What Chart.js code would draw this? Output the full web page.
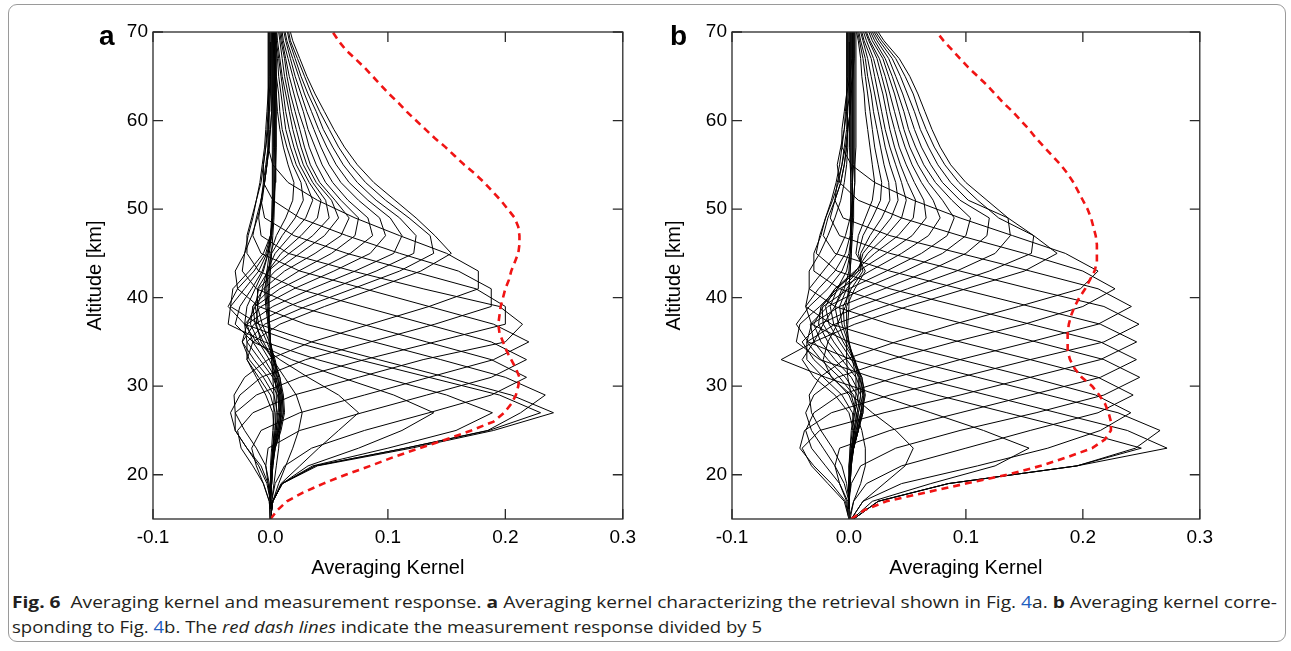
<!DOCTYPE html>
<html lang="en">
<head>
<meta charset="UTF-8">
<title>Averaging kernel and measurement response</title>
<style>
    body {
        margin: 0;
        width: 1291px;
        height: 651px;
        background: #fff;
        position: relative;
        overflow: hidden;
        font-family: "Liberation Sans", Arial, sans-serif;
    }
    #box {
        position: absolute;
        left: 8px;
        top: 4px;
        width: 1276px;
        height: 636px;
        border: 1px solid #9a9a9a;
        border-radius: 9px;
    }
    canvas {
        position: absolute;
        top: 0;
    }
    .tag {
        position: absolute;
        font-weight: bold;
        font-size: 28px;
        line-height: 1;
        color: #000;
    }
    .cap-line {
        position: absolute;
        left: 12px;
        white-space: nowrap;
        font-family: "Open Sans", "Noto Sans", sans-serif;
        font-size: 16px;
        color: #231f20;
        transform-origin: 0 50%;
        display: inline-block;
    }
    .cap-line b { font-weight: 700; }
    .cap-line .ref { color: #1f5fbf; }
</style>
</head>
<body>
<div id="box"></div>
<canvas id="panelA" width="643" height="580"></canvas>
<canvas id="panelB" width="641" height="580"></canvas>
<div class="tag" style="left:99px; top:22px;">a</div>
<div class="tag" style="left:670px; top:22px;">b</div>
<div class="cap-line" id="cap1" data-width="1265" style="top:591px;"><b>Fig. 6</b>&nbsp;&nbsp;Averaging kernel and measurement response. <b>a</b> Averaging kernel characterizing the retrieval shown in Fig. <span class="ref">4</span>a. <b>b</b> Averaging kernel corre-</div>
<div class="cap-line" id="cap2" data-width="750" style="top:616px;">sponding to Fig. <span class="ref">4</span>b. The <i>red dash lines</i> indicate the measurement response divided by 5</div>

<script src="https://cdn.jsdelivr.net/npm/chart.js"></script>
<script>
    // retrieval grid (km) shared by every kernel row
    const altitudes = [15, 17, 19, 21, 23, 25, 27, 29, 31, 33, 35, 37, 39, 41, 43,
                       45, 47, 49, 51, 53, 55, 57, 59, 61, 63, 65, 67, 69, 71];

    // panel a: one row per retrieval level (15 ... 71 km)
    const kernelsA = [
        [0,.001,.003,.005,.007,.008,.009,.007,.003,.001,-.001,-.002,-.002,-.001,0,.001,.002,.003,.0035,.004,.004,.0045,.0045,.0045,.0045,.0045,.0045,.0045,.0045],
        [0,.002,.007,.013,.019,.024,.027,.022,.012,.002,-.008,-.012,-.011,-.007,-.003,-.001,.001,.002,.0025,.003,.003,.0035,.0035,.0035,.0035,.0035,.0035,.0035,.0035],
        [0,.002,.009,.025,.041,.058,.075,.058,.032,.008,-.012,-.022,-.020,-.013,-.006,-.002,.001,.002,.003,.004,.0045,.005,.005,.005,.005,.005,.005,.005,.005],
        [0,.002,.010,.032,.075,.112,.139,.105,.060,.018,-.015,-.030,-.026,-.016,-.007,-.002,0,.001,.0015,.002,.002,.0025,.0025,.0025,.0025,.0025,.0025,.0025,.0025],
        [0,.002,.010,.036,.100,.158,.189,.150,.095,.040,-.005,-.036,-.034,-.022,-.010,-.003,.001,.002,.003,.0035,.004,.004,.004,.004,.004,.004,.004,.004,.004],
        [0,.002,.010,.038,.115,.186,.230,.195,.135,.075,.020,-.022,-.036,-.028,-.014,-.004,0,.002,.002,.002,.0015,.0015,.0015,.0015,.0015,.0015,.0015,.0015,.0015],
        [0,.002,.010,.040,.120,.190,.241,.205,.150,.092,.035,-.010,-.034,-.032,-.018,-.006,0,.002,.003,.003,.003,.003,.003,.003,.003,.003,.003,.003,.003],
        [0,.002,.010,.038,.115,.185,.213,.234,.200,.145,.088,.030,-.010,-.028,-.030,-.022,-.016,-.011,-.007,-.005,-.003,-.002,-.002,-.002,-.002,-.002,-.002,-.002,-.002],
        [0,.001,.004,.012,.035,.080,.135,.188,.218,.188,.133,.078,.023,-.012,-.024,-.022,-.019,-.015,-.012,-.009,-.007,-.005,-.004,-.003,-.002,-.001,-.001,-.001,-.001],
        [0,0,-.002,-.004,-.002,.025,.078,.133,.188,.218,.188,.133,.078,.023,-.010,-.020,-.020,-.016,-.012,-.008,-.006,-.004,-.003,-.002,-.001,0,.0005,.0005,.0005],
        [0,-.001,-.006,-.012,-.016,-.008,.025,.080,.135,.190,.220,.190,.135,.080,.025,-.008,-.015,-.012,-.008,-.005,-.003,-.001,0,.001,.002,.002,.002,.002,.002],
        [0,-.001,-.006,-.015,-.025,-.028,-.015,.020,.075,.130,.200,.2146,.195,.130,.070,.015,-.008,-.010,-.008,-.005,-.003,-.001,-.001,-.0015,-.0015,-.0015,-.0015,-.0015,-.0015],
        [0,0,-.003,-.010,-.020,-.030,-.030,-.012,.025,.080,.140,.200,.200,.175,.120,.065,.020,-.005,-.008,-.006,-.004,-.002,0,.001,.001,.001,.001,.001,.001],
        [0,0,-.002,-.008,-.020,-.030,-.034,-.026,-.008,.030,.085,.140,.188,.188,.160,.110,.065,.025,.002,-.006,-.006,-.004,-.002,-.001,-.0005,-.0005,-.0005,-.0005,-.0005],
        [0,0,-.001,-.004,-.012,-.022,-.030,-.031,-.022,-.002,.035,.085,.135,.177,.177,.150,.110,.072,.040,.015,.002,-.002,-.002,-.001,0,0,0,0,0],
        [0,0,0,.001,.002,.003,.002,-.004,-.012,-.020,-.015,.008,.046,.088,.128,.154,.140,.124,.106,.088,.074,.063,.054,.046,.038,.031,.025,.019,.015],
        [0,0,0,.001,.002,.004,.004,0,-.010,-.020,-.020,-.005,.030,.070,.110,.139,.136,.118,.098,.081,.068,.058,.050,.042,.035,.029,.023,.017,.014],
        [0,0,.001,.001,.003,.005,.006,.003,-.006,-.018,-.024,-.014,.015,.052,.090,.122,.124,.110,.090,.074,.062,.053,.045,.039,.032,.026,.021,.016,.013],
        [0,0,0,.001,.003,.006,.008,.006,-.002,-.014,-.024,-.020,.002,.035,.072,.105,.112,.102,.083,.067,.056,.048,.041,.035,.029,.024,.019,.014,.011],
        [0,0,.001,.002,.003,.007,.009,.008,.002,-.009,-.020,-.022,-.008,.020,.054,.085,.098,.093,.075,.060,.050,.043,.037,.031,.026,.021,.017,.013,.010],
        [0,0,0,.001,.003,.007,.010,.009,.004,-.005,-.015,-.020,-.013,.008,.038,.068,.087,.083,.066,.053,.044,.038,.032,.028,.023,.019,.015,.011,.009],
        [0,0,.001,.002,.004,.008,.011,.010,.006,-.001,-.010,-.017,-.015,0,.024,.052,.072,.075,.060,.047,.039,.033,.029,.024,.020,.016,.013,.010,.008],
        [0,0,0,.001,.004,.009,.012,.011,.008,.002,-.006,-.013,-.015,-.006,.012,.038,.060,.067,.055,.042,.034,.029,.025,.021,.017,.014,.012,.009,.007],
        [0,0,.001,.002,.004,.008,.011,.010,.008,.003,-.003,-.010,-.013,-.010,.004,.025,.046,.058,.052,.039,.031,.026,.022,.018,.015,.012,.010,.008,.006],
        [0,0,0,.001,.003,.007,.009,.009,.007,.004,-.001,-.007,-.011,-.011,-.002,.016,.036,.050,.047,.036,.028,.023,.019,.016,.013,.010,.008,.006,.005],
        [0,0,.001,.001,.003,.006,.008,.008,.006,.003,0,-.002,-.004,-.005,-.002,.009,.026,.040,.043,.033,.025,.020,.016,.013,.011,.009,.007,.005,.004],
        [0,0,0,.001,.002,.005,.007,.007,.005,.003,0,-.001,-.003,-.004,-.003,.004,.017,.030,.036,.030,.022,.017,.013,.011,.009,.007,.006,.004,.003],
        [0,0,.001,.001,.002,.004,.005,.005,.004,.002,0,-.001,-.002,-.003,-.002,.001,.010,.021,.028,.026,.019,.014,.010,.008,.007,.005,.004,.003,.002],
        [0,0,0,0,.001,.002,.003,.003,.002,.001,0,-.0005,-.001,-.0015,-.001,0,.005,.013,.019,.020,.015,.011,.008,.006,.005,.004,.003,.002,.001]
    ];

    // panel b: same grid, second retrieval
    const kernelsB = [
        [.001,.004,.010,.014,.014,.011,.006,.002,-.001,-.002,-.002,-.001,0,0,.001,.002,.002,.003,.003,.003,.003,.003,.003,.003,.003,.003,.003,.003,.003],
        [.002,.012,.030,.048,.055,.040,.020,.002,-.015,-.022,-.018,-.010,-.003,0,.001,.002,.003,.004,.004,.005,.005,.005,.005,.005,.005,.005,.005,.005,.005],
        [.003,.020,.070,.125,.154,.115,.070,.025,-.020,-.058,-.030,-.022,-.012,-.004,0,.001,.001,.0015,.0015,.0015,.0015,.0015,.0015,.0015,.0015,.0015,.0015,.0015,.0015],
        [.004,.025,.085,.195,.250,.195,.135,.075,.020,-.025,-.045,-.042,-.025,-.010,-.002,.001,.002,.003,.004,.005,.005,.006,.006,.006,.006,.006,.006,.006,.006],
        [.004,.025,.085,.195,.272,.238,.178,.118,.058,.002,-.035,-.045,-.034,-.018,-.006,0,.002,.002,.002,.002,.001,.0005,.0005,.0005,.0005,.0005,.0005,.0005,.0005],
        [.004,.025,.085,.195,.245,.266,.230,.170,.110,.050,0,-.032,-.037,-.026,-.012,-.003,.001,.002,.003,.003,.004,.004,.004,.004,.004,.004,.004,.004,.004],
        [.002,.012,.045,.110,.170,.215,.241,.211,.155,.095,.035,-.015,-.037,-.034,-.022,-.010,-.003,.001,.003,.003,.002,.002,.002,.002,.002,.002,.002,.002,.002],
        [0,.004,.015,.045,.100,.155,.213,.243,.213,.155,.095,.035,-.012,-.034,-.034,-.025,-.018,-.012,-.007,-.004,-.002,-.001,-.001,-.002,-.002,-.002,-.002,-.002,-.002],
        [0,0,.002,.010,.040,.095,.160,.218,.2486,.218,.160,.100,.040,-.008,-.030,-.030,-.024,-.020,-.015,-.011,-.008,-.006,-.004,-.003,-.002,-.001,-.001,-.001,-.001],
        [0,-.002,-.008,-.012,-.008,.035,.095,.155,.215,.2458,.215,.155,.095,.035,-.010,-.028,-.025,-.020,-.014,-.009,-.006,-.004,-.002,-.001,-.0005,-.0005,-.0005,-.0005,-.0005],
        [0,-.004,-.018,-.032,-.040,-.025,.030,.095,.155,.215,.246,.215,.155,.095,.035,-.012,-.022,-.018,-.012,-.007,-.004,-.002,-.001,.001,.002,.0035,.0035,.0035,.0035],
        [0,-.003,-.015,-.030,-.042,-.038,-.015,.035,.095,.155,.218,.248,.218,.155,.095,.035,-.008,-.016,-.012,-.007,-.004,-.002,-.001,-.0015,-.0015,-.0015,-.0015,-.0015,-.0015],
        [0,-.001,-.008,-.020,-.032,-.037,-.030,-.008,.040,.095,.155,.213,.2415,.213,.155,.095,.035,-.005,-.012,-.010,-.006,-.003,-.001,.001,.001,.001,.001,.001,.001],
        [0,0,-.004,-.012,-.022,-.032,-.037,-.030,-.010,.035,.090,.150,.200,.2275,.200,.150,.095,.045,.008,-.008,-.010,-.007,-.004,-.002,.001,.003,.0045,.0045,.0045],
        [0,0,-.002,-.006,-.014,-.024,-.032,-.034,-.025,-.004,.040,.090,.145,.198,.213,.185,.140,.095,.055,.022,.002,-.006,-.006,-.004,-.002,.001,.0025,.0025,.0025],
        [0,0,0,.001,.003,.004,0,-.012,-.030,-.040,-.030,.005,.050,.100,.150,.178,.158,.136,.118,.100,.087,.078,.071,.065,.059,.052,.043,.030,.020],
        [0,0,0,.001,.003,.005,.003,-.006,-.022,-.036,-.036,-.012,.030,.075,.120,.156,.158,.128,.110,.094,.082,.073,.066,.060,.055,.048,.040,.028,.018],
        [0,0,.001,.001,.004,.006,.006,0,-.014,-.030,-.040,-.025,.008,.050,.092,.125,.138,.136,.102,.087,.076,.068,.061,.056,.050,.044,.037,.026,.017],
        [0,0,0,.001,.004,.007,.008,.004,-.008,-.024,-.036,-.032,-.008,.030,.068,.100,.118,.120,.095,.080,.070,.062,.056,.051,.046,.040,.034,.024,.016],
        [0,0,.001,.002,.004,.008,.010,.007,-.003,-.018,-.030,-.033,-.018,.012,.048,.080,.100,.104,.088,.074,.064,.057,.051,.047,.042,.037,.031,.022,.015],
        [0,0,0,.001,.004,.008,.011,.010,.002,-.012,-.024,-.030,-.022,0,.032,.062,.084,.090,.080,.068,.059,.052,.047,.043,.039,.034,.029,.020,.014],
        [0,0,.001,.002,.004,.008,.012,.012,.006,-.006,-.018,-.026,-.024,-.008,.018,.045,.068,.078,.072,.062,.054,.048,.043,.039,.035,.031,.026,.018,.012],
        [0,0,0,.001,.004,.008,.012,.013,.009,-.002,-.013,-.022,-.023,-.012,.008,.032,.054,.066,.064,.056,.049,.043,.039,.035,.032,.028,.024,.017,.011],
        [0,0,.001,.002,.003,.007,.011,.014,.011,.002,-.008,-.017,-.020,-.012,.005,.022,.042,.055,.057,.050,.044,.039,.035,.032,.029,.025,.021,.015,.010],
        [0,0,0,.001,.003,.006,.010,.013,.011,.004,-.005,-.013,-.016,-.010,.006,.016,.032,.045,.049,.045,.040,.035,.031,.028,.025,.022,.019,.013,.009],
        [0,0,.001,.001,.002,.005,.008,.012,.010,.005,-.003,-.009,-.012,-.006,.008,.012,.024,.036,.042,.040,.035,.031,.028,.025,.022,.019,.016,.012,.008],
        [0,0,0,0,.002,.004,.007,.010,.009,.005,-.001,-.006,-.008,-.002,.010,.010,.018,.028,.035,.034,.030,.027,.024,.021,.019,.016,.014,.010,.007],
        [0,0,.001,.001,.001,.003,.005,.008,.008,.004,0,-.004,-.005,.002,.012,.008,.012,.020,.027,.028,.025,.022,.020,.018,.016,.014,.012,.009,.006],
        [0,0,0,0,.001,.002,.004,.006,.006,.003,0,-.002,-.002,.005,.014,.006,.008,.014,.020,.022,.020,.018,.016,.014,.013,.011,.010,.008,.005]
    ];

    // measurement response / 5, on a 1 km grid
    const responseAltitudes = [15, 16, 17, 18, 19, 20, 21, 22, 23, 24, 25, 26, 27, 28, 29, 30, 31, 32, 33, 34,
                               35, 36, 37, 38, 39, 40, 41, 42, 43, 44, 45, 46, 47, 48, 49, 50, 51, 52, 53, 54,
                               55, 56, 57, 58, 59, 60, 61, 62, 63, 64, 65, 66, 67, 68, 69, 70];
    const responseA = [0.000, 0.006, 0.014, 0.028, 0.045, 0.064, 0.085, 0.105, 0.127, 0.150,
                       0.171, 0.190, 0.199, 0.205, 0.209, 0.211, 0.212, 0.209, 0.205, 0.201,
                       0.198, 0.195, 0.194, 0.195, 0.196, 0.198, 0.200, 0.203, 0.205, 0.208,
                       0.211, 0.212, 0.212, 0.211, 0.208, 0.202, 0.196, 0.189, 0.182, 0.174,
                       0.165, 0.157, 0.149, 0.140, 0.132, 0.124, 0.116, 0.109, 0.101, 0.094,
                       0.087, 0.080, 0.072, 0.064, 0.058, 0.053];
    const responseB = [0.002, 0.013, 0.032, 0.066, 0.100, 0.135, 0.164, 0.187, 0.208, 0.219,
                       0.224, 0.224, 0.222, 0.219, 0.214, 0.208, 0.199, 0.193, 0.189, 0.187,
                       0.187, 0.187, 0.188, 0.190, 0.193, 0.197, 0.202, 0.206, 0.210, 0.212,
                       0.212, 0.212, 0.211, 0.209, 0.207, 0.204, 0.200, 0.196, 0.192, 0.187,
                       0.181, 0.174, 0.167, 0.160, 0.154, 0.147, 0.140, 0.132, 0.125, 0.118,
                       0.110, 0.102, 0.095, 0.088, 0.081, 0.075];

    const xTicks = [-0.1, 0.0, 0.1, 0.2, 0.3];
    const yTicks = [20, 30, 40, 50, 60, 70];

    // box around the plot area with inward ticks on all four sides
    const frameTicks = {
        id: 'frameTicks',
        afterDraw(chart) {
            const { ctx, chartArea: a, scales: { x, y } } = chart;
            const len = 10;
            ctx.save();
            ctx.strokeStyle = '#2a2a2a';
            ctx.lineWidth = 1.3;
            ctx.strokeRect(a.left, a.top, a.right - a.left, a.bottom - a.top);
            ctx.beginPath();
            xTicks.forEach(v => {
                const px = x.getPixelForValue(v);
                ctx.moveTo(px, a.bottom); ctx.lineTo(px, a.bottom - len);
                ctx.moveTo(px, a.top); ctx.lineTo(px, a.top + len);
            });
            yTicks.forEach(v => {
                const py = y.getPixelForValue(v);
                ctx.moveTo(a.left, py); ctx.lineTo(a.left + len, py);
                ctx.moveTo(a.right, py); ctx.lineTo(a.right - len, py);
            });
            ctx.stroke();
            ctx.restore();
        }
    };

    function buildDatasets(kernels, response) {
        const sets = [{
            data: response.map((v, i) => ({ x: v, y: responseAltitudes[i] })),
            borderColor: '#f01414',
            borderWidth: 2.6,
            borderDash: [7, 5],
            pointRadius: 0,
            showLine: true,
            tension: 0
        }];
        kernels.forEach(row => {
            sets.push({
                data: row.map((v, i) => ({ x: v, y: altitudes[i] })),
                borderColor: '#000',
                borderWidth: 1,
                pointRadius: 0,
                showLine: true,
                tension: 0
            });
        });
        return sets;
    }

    function createPanel(id, kernels, response, padRight) {
        const tickFont = { family: '"Liberation Sans", Arial, sans-serif', size: 19 };
        const titleFont = { family: '"Liberation Sans", Arial, sans-serif', size: 20 };
        new Chart(document.getElementById(id), {
            type: 'scatter',
            data: { datasets: buildDatasets(kernels, response) },
            options: {
                responsive: false,
                animation: false,
                devicePixelRatio: 1,
                layout: { padding: { left: 83, top: 32, right: padRight, bottom: 0 } },
                plugins: { legend: { display: false }, tooltip: { enabled: false } },
                scales: {
                    x: {
                        type: 'linear',
                        min: -0.1,
                        max: 0.3,
                        afterBuildTicks: axis => { axis.ticks = xTicks.map(v => ({ value: v })); },
                        afterFit: axis => { axis.height = 61; },
                        grid: { display: false, drawTicks: false },
                        border: { display: false },
                        ticks: {
                            padding: 7,
                            color: '#000',
                            font: tickFont,
                            maxRotation: 0,
                            callback: v => v.toFixed(1)
                        },
                        title: {
                            display: true,
                            text: 'Averaging Kernel',
                            color: '#000',
                            font: titleFont,
                            padding: { top: 0, bottom: 0 }
                        }
                    },
                    y: {
                        type: 'linear',
                        min: 15,
                        max: 70,
                        afterBuildTicks: axis => { axis.ticks = yTicks.map(v => ({ value: v })); },
                        afterFit: axis => { axis.width = 70; },
                        grid: { display: false, drawTicks: false },
                        border: { display: false },
                        ticks: { padding: 5, color: '#000', font: tickFont },
                        title: {
                            display: true,
                            text: 'Altitude [km]',
                            color: '#000',
                            font: titleFont,
                            padding: { top: 0, bottom: 0 }
                        }
                    }
                }
            },
            plugins: [frameTicks]
        });
    }

    const canvasA = document.getElementById('panelA');
    const canvasB = document.getElementById('panelB');
    canvasA.style.left = '0px';
    canvasB.style.left = '579px';

    createPanel('panelA', kernelsA, responseA, 16);
    createPanel('panelB', kernelsB, responseB, 16);

    // squeeze caption lines to the printed column width
    function fitCaption() {
        document.querySelectorAll('.cap-line').forEach(el => {
            el.style.transform = 'none';
            const w = el.getBoundingClientRect().width;
            el.style.transform = 'scaleX(' + (Number(el.dataset.width) / w) + ')';
        });
    }
    fitCaption();
    if (document.fonts) document.fonts.ready.then(fitCaption);
</script>
</body>
</html>
